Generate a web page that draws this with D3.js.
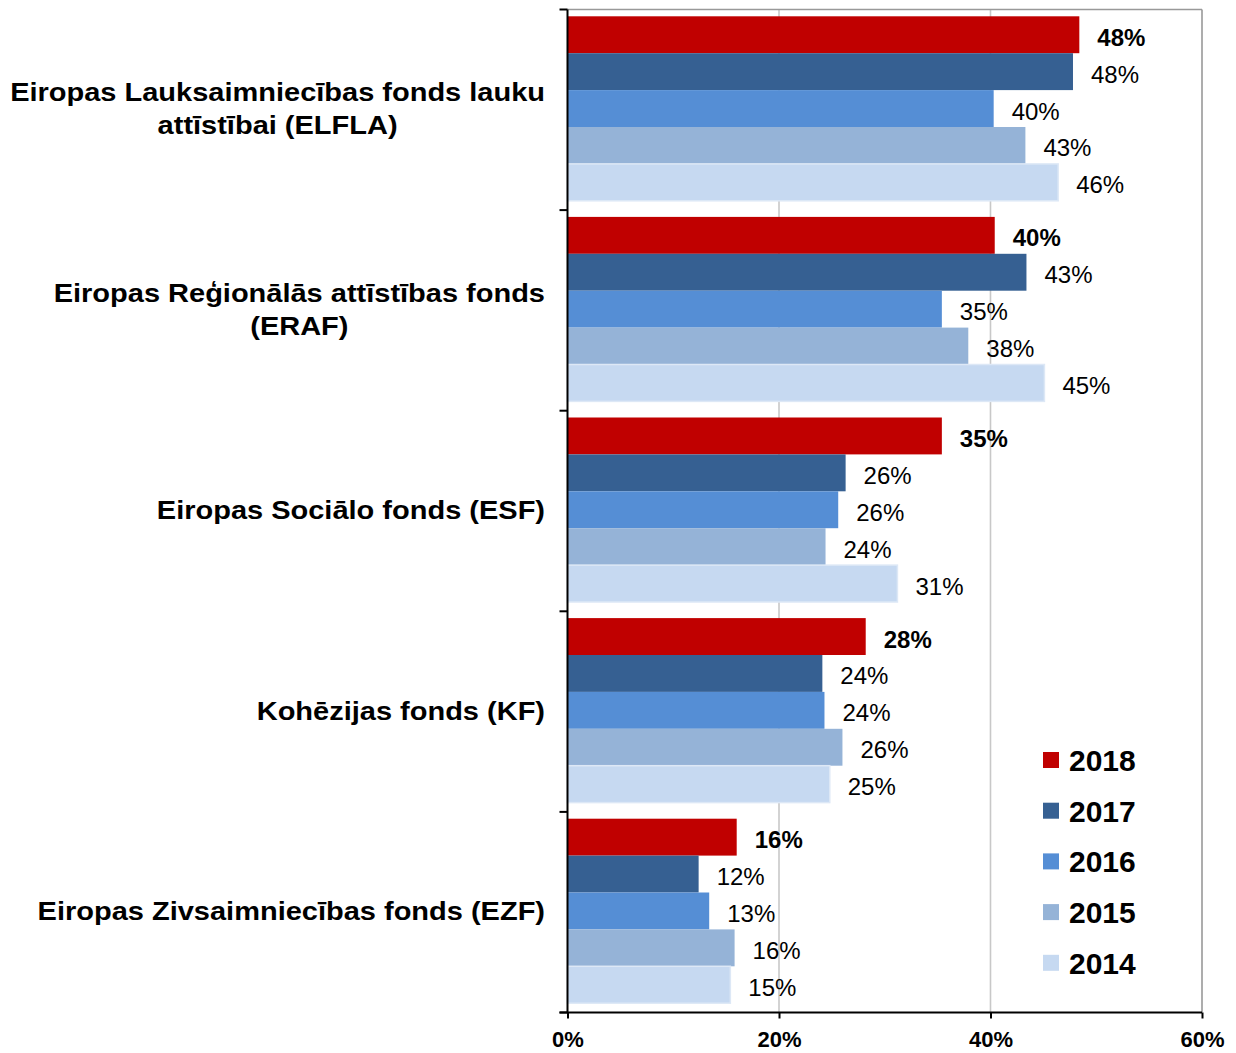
<!DOCTYPE html>
<html>
<head>
  <meta charset="utf-8">
  <script src="https://d3js.org/d3.v7.min.js"></script>
  <style>
    body{margin:0;background:#fff;}
    svg{display:block;font-family:"Liberation Sans",Arial,sans-serif;}
  </style>
</head>
<body>
<svg></svg>
<script>
// fondi (kategorijas), katrai rindai var būt vairākas rindiņas
var funds = [
  ["Eiropas Lauksaimniecības fonds lauku", "attīstībai (ELFLA)"],
  ["Eiropas Reģionālās attīstības fonds", "(ERAF)"],
  ["Eiropas Sociālo fonds (ESF)"],
  ["Kohēzijas fonds (KF)"],
  ["Eiropas Zivsaimniecības fonds (EZF)"]
];
var years = ["2018", "2017", "2016", "2015", "2014"];
var colors = ["#c00000", "#366092", "#558ed5", "#95b3d7", "#c6d9f1"];
// vērtības pa gadiem, secībā kā funds
var v2018 = [0.484, 0.404, 0.354, 0.282, 0.160];
var v2017 = [0.478, 0.434, 0.263, 0.241, 0.124];
var v2016 = [0.403, 0.354, 0.256, 0.243, 0.134];
var v2015 = [0.433, 0.379, 0.244, 0.260, 0.158];
var v2014 = [0.464, 0.451, 0.312, 0.248, 0.154];
var series = [v2018, v2017, v2016, v2015, v2014];
var xTicks = [0, 0.2, 0.4, 0.6];

var W = 1236, H = 1053;
var pLeft = 567.5, pRight = 1202, pTop = 9.5, pBottom = 1012.5;

var svg = d3.select("svg").attr("width", W).attr("height", H);

var x = d3.scaleLinear().domain([0, 0.6]).range([pLeft, pRight]);
var y0 = d3.scaleBand().domain(d3.range(funds.length)).range([pTop, pBottom]);
var y1 = d3.scaleBand().domain(years).range([6.8, 6.8 + 184.5]);

// režģis
svg.append("g").selectAll("line").data(xTicks.slice(1)).enter().append("line")
  .attr("x1", d => x(d)).attr("x2", d => x(d))
  .attr("y1", pTop).attr("y2", pBottom)
  .attr("stroke", d => d === 0.6 ? "#999" : "#c8c8c8").attr("stroke-width", 1.6);
svg.append("line").attr("x1", pLeft).attr("x2", pRight).attr("y1", pTop).attr("y2", pTop)
  .attr("stroke", "#999").attr("stroke-width", 1.6);

// stabiņi
var groups = svg.append("g").selectAll("g").data(funds).enter().append("g")
  .attr("transform", (d, i) => "translate(0," + y0(i) + ")");

groups.each(function(f, i) {
  var g = d3.select(this);
  years.forEach(function(yr, k) {
    var val = series[k][i];
    g.append("rect")
      .attr("x", x(0)).attr("y", y1(yr))
      .attr("width", x(val) - x(0)).attr("height", y1.bandwidth())
      .attr("fill", colors[k])
      .attr("stroke", k === 4 ? "#dde8f6" : "none").attr("stroke-width", 1.5);
    g.append("text")
      .attr("x", x(val) + 18).attr("y", y1(yr) + y1.bandwidth() / 2 + 11)
      .attr("font-size", "24px")
      .attr("font-weight", k === 0 ? "bold" : "normal")
      .attr("fill", "#000")
      .text(d3.format(".0%")(val));
  });
});

// kategoriju nosaukumi (horizontāli nedaudz izstiepti kā oriģinālā)
var stretch = 1.16;
groups.each(function(f, i) {
  var g = d3.select(this);
  var mid = y0.bandwidth() / 2;
  var t = g.append("text").attr("font-size", "25px").attr("font-weight", "bold")
    .attr("text-anchor", "middle")
    .attr("transform", "translate(545,0) scale(" + stretch + ",1)");
  var lines = f.map((s, j) => t.append("tspan").text(s)
    .attr("y", mid - (f.length - 1) * 33.3 / 2 + j * 33.3 + 8));
  var maxW = d3.max(lines, l => l.node().getComputedTextLength());
  lines.forEach(l => l.attr("x", -maxW / 2));
});

// asis
var yAxis = svg.append("g");
yAxis.append("line").attr("x1", pLeft).attr("x2", pLeft).attr("y1", pTop).attr("y2", pBottom)
  .attr("stroke", "#000").attr("stroke-width", 2);
yAxis.selectAll(".tk").data(d3.range(funds.length + 1)).enter().append("line")
  .attr("x1", pLeft - 8).attr("x2", pLeft)
  .attr("y1", d => pTop + d * y0.step()).attr("y2", d => pTop + d * y0.step())
  .attr("stroke", "#000").attr("stroke-width", 2);

var xAxis = svg.append("g").attr("transform", "translate(0," + pBottom + ")")
  .call(d3.axisBottom(x).tickValues(xTicks).tickFormat(d3.format(".0%")).tickSize(6).tickSizeOuter(0));
xAxis.select(".domain").attr("stroke", "#000").attr("stroke-width", 2)
  .attr("d", "M" + (pLeft - 8) + ",0H" + pRight);
xAxis.selectAll(".tick line").attr("stroke", "#000").attr("stroke-width", 2);
xAxis.selectAll(".tick text").attr("font-size", "22px").attr("font-weight", "bold")
  .attr("font-family", "Liberation Sans, Arial, sans-serif").attr("fill", "#000")
  .attr("y", 19).attr("dy", "0.71em");

// leģenda
var leg = svg.append("g").selectAll("g").data(years).enter().append("g")
  .attr("transform", (d, i) => "translate(1043," + (760 + i * 50.7) + ")");
leg.append("rect").attr("x", 0).attr("y", -8).attr("width", 16).attr("height", 16)
  .attr("fill", (d, i) => colors[i]);
leg.append("text").attr("x", 26).attr("y", 11).attr("font-size", "30px")
  .attr("font-weight", "bold").text(d => d);
</script>
</body>
</html>
